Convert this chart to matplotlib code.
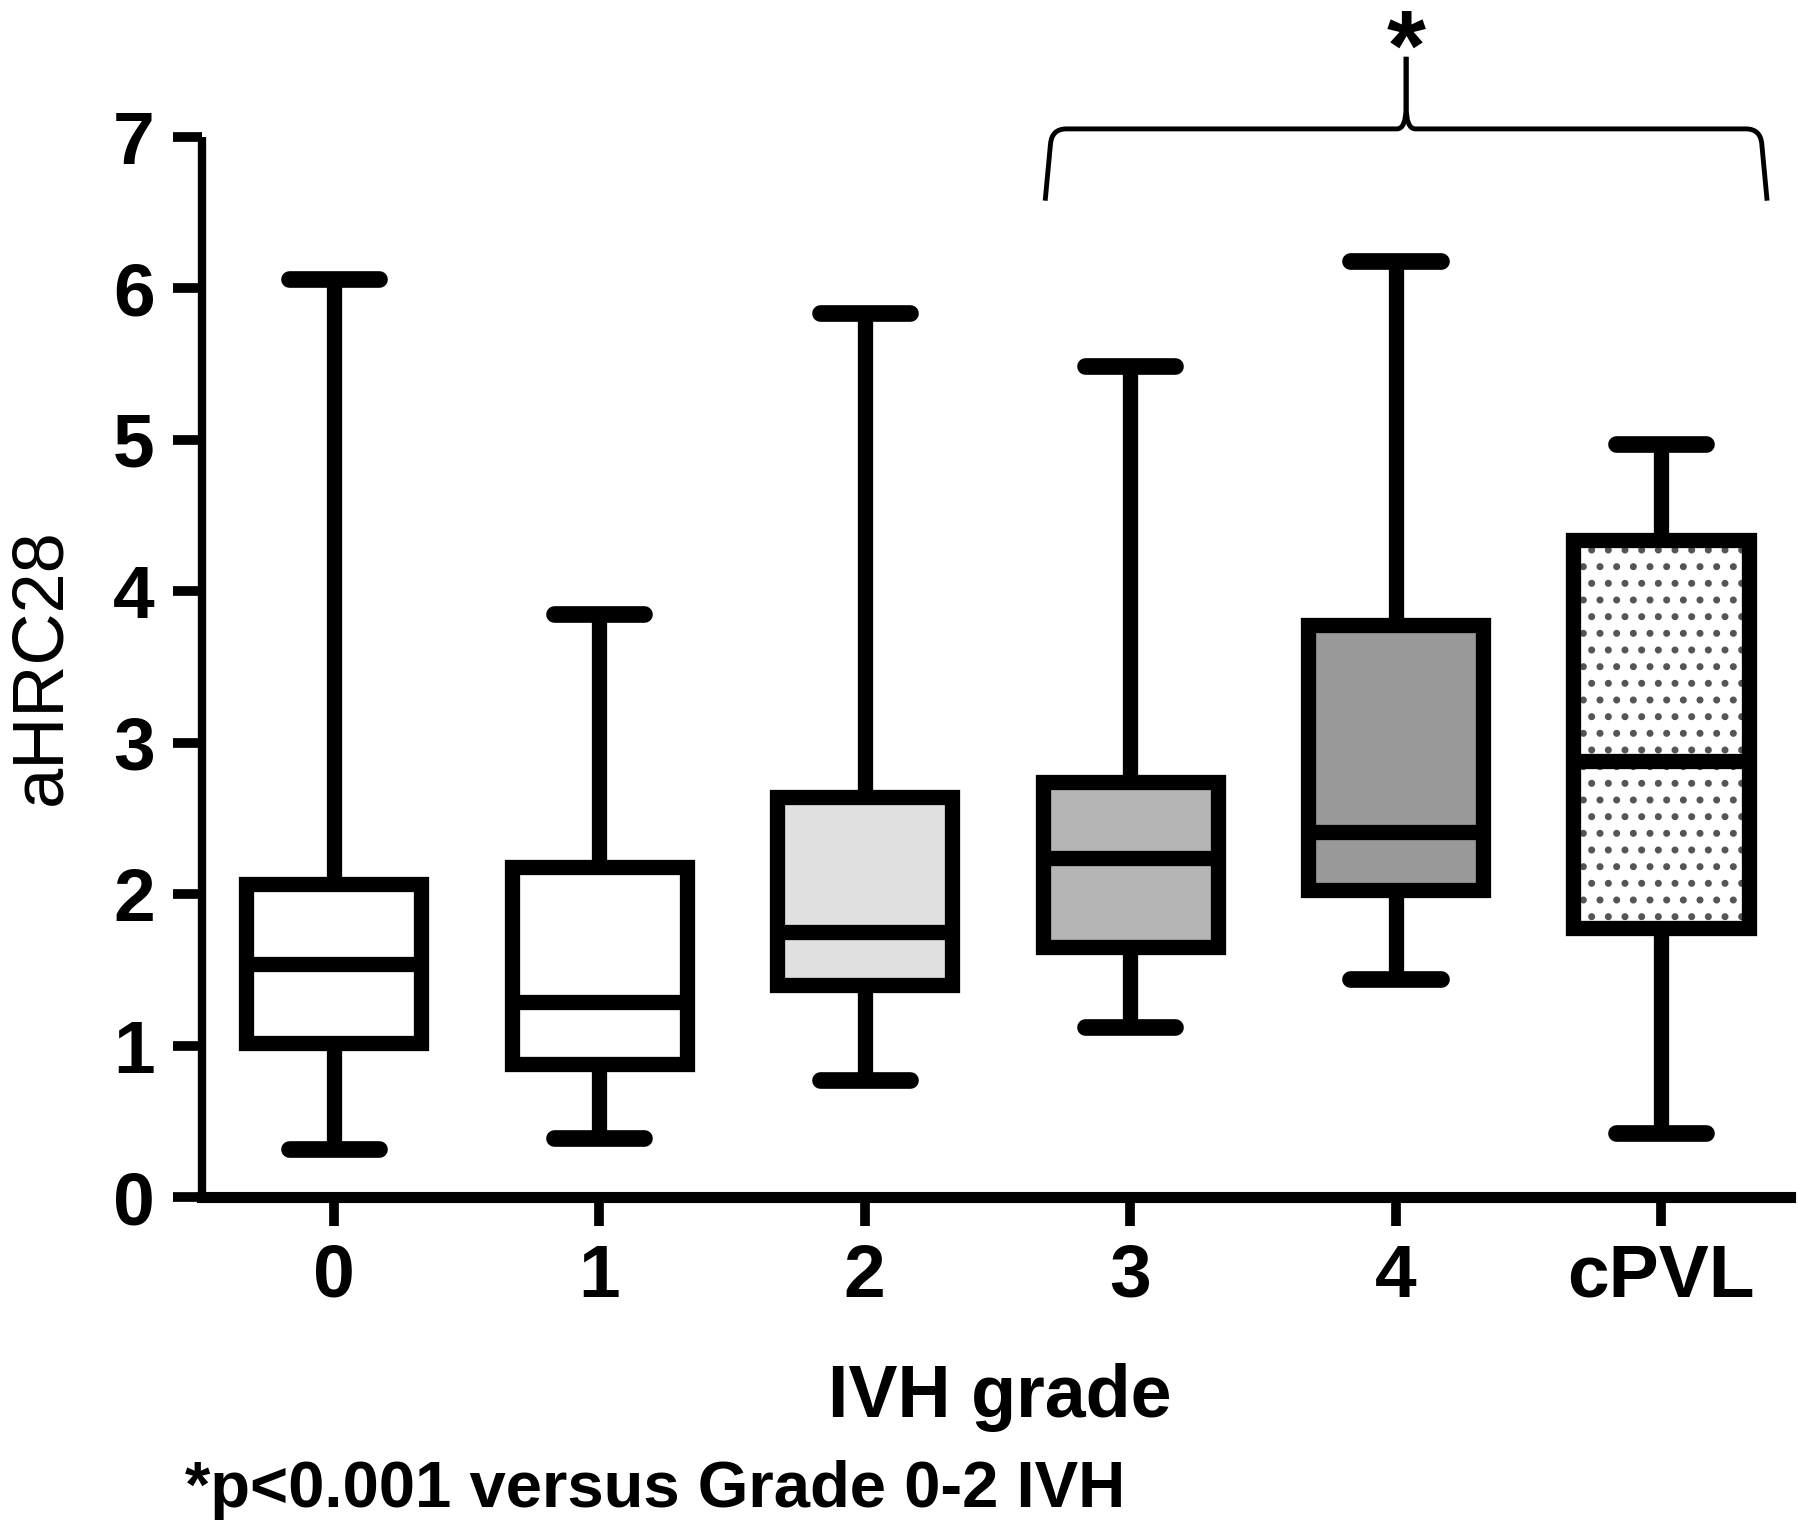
import numpy as np
import matplotlib
matplotlib.use('Agg')
import matplotlib.pyplot as plt
from matplotlib.path import Path
from matplotlib.patches import PathPatch, Rectangle

plt.rcParams['font.family'] = ['Liberation Sans', 'DejaVu Sans']
plt.rcParams['hatch.linewidth'] = 2.6

# box summary values
groups = ['0', '1', '2', '3', '4', 'cPVL']
whisker_high = [6.06, 3.85, 5.84, 5.49, 6.18, 4.97]
q3 = [2.07, 2.18, 2.64, 2.74, 3.78, 4.34]
median = [1.54, 1.29, 1.75, 2.24, 2.41, 2.88]
q1 = [1.02, 0.88, 1.40, 1.65, 2.03, 1.78]
whisker_low = [0.32, 0.39, 0.77, 1.12, 1.44, 0.42]
fills = ['white', 'white', '#e0e0e0', '#b5b5b5', '#999999', 'white']
dotted = [False, False, False, False, False, True]

yticks = [0, 1, 2, 3, 4, 5, 6, 7]
sig_from, sig_to = 2.68, 5.40   # bracket ends, in group units

fig = plt.figure(figsize=(18, 15.23), dpi=100)
ax = fig.add_axes([0.1122, 0.214, 0.8822, 0.696])

pos = np.arange(len(groups))
stats = []
for i in range(len(groups)):
    stats.append(dict(med=median[i], q1=q1[i], q3=q3[i],
                      whislo=whisker_low[i], whishi=whisker_high[i], fliers=[]))

lw = 11
bp = ax.bxp(stats, positions=pos, widths=0.66, capwidths=0.34,
            patch_artist=True, showfliers=False,
            boxprops=dict(linewidth=lw, edgecolor='black', joinstyle='miter'),
            medianprops=dict(linewidth=lw, color='black', solid_capstyle='butt'),
            whiskerprops=dict(linewidth=lw, color='black', solid_capstyle='butt'),
            capprops=dict(linewidth=12, color='black', solid_capstyle='round'))

for box, fc, dot in zip(bp['boxes'], fills, dotted):
    box.set_facecolor('none' if dot else fc)
    box.set_zorder(3)
for k in ['medians', 'whiskers', 'caps']:
    for ln in bp[k]:
        ln.set_zorder(4)

# dotted fill for cPVL
for i in range(len(groups)):
    if dotted[i]:
        r = Rectangle((pos[i] - 0.33, q1[i]), 0.66, q3[i] - q1[i],
                      facecolor='white', edgecolor='#555555', linewidth=0,
                      hatch='.', zorder=2)
        ax.add_patch(r)

ax.set_xlim(-0.497, 5.486)
ax.set_ylim(0, 7)
ax.set_yticks(yticks)
ax.set_xticks(pos)
ax.set_xticklabels(groups)

for s in ['top', 'right']:
    ax.spines[s].set_visible(False)
ax.spines['left'].set_linewidth(6)
ax.spines['bottom'].set_linewidth(8)
ax.spines['left'].set_capstyle('butt')

ax.tick_params(axis='y', direction='out', length=21, width=7, pad=13,
               labelsize=54)
ax.tick_params(axis='x', direction='out', length=21, width=7, pad=12,
               labelsize=54)
for t in ax.get_xticklabels() + ax.get_yticklabels():
    t.set_fontweight('bold')

fig.text(0.023, 0.562, 'aHRC28', rotation=90, ha='center', va='center',
         fontsize=52)
fig.text(0.5556, 0.0696, 'IVH grade', ha='center', va='baseline',
         fontsize=53, fontweight='bold')
fig.text(0.103, 0.0105, '*p<0.001 versus Grade 0-2 IVH', ha='left',
         va='baseline', fontsize=47, fontweight='bold')

# significance brace
xl, xr = sig_from, sig_to
xc = (xl + xr) / 2
yt, yb, yp = 7.054, 6.58, 7.53
left = [(xl, yb), (xl + 0.02, yt - 0.1), (xl + 0.025, yt), (xl + 0.08, yt),
        (xc - 0.035, yt), (xc, yt), (xc, yt + 0.15), (xc, yp)]
codes = [Path.MOVETO, Path.LINETO, Path.CURVE3, Path.CURVE3,
         Path.LINETO, Path.CURVE3, Path.CURVE3, Path.LINETO]
right = [(2 * xc - x, y) for x, y in left]
for verts in [left, right]:
    ax.add_patch(PathPatch(Path(verts, codes), fill=False, linewidth=3.5,
                           edgecolor='black', clip_on=False, zorder=5))
ax.text(xc, 7.38, '*', ha='center', va='baseline', fontsize=72,
        fontweight='bold', clip_on=False)

fig.savefig('out.png', dpi=100)
